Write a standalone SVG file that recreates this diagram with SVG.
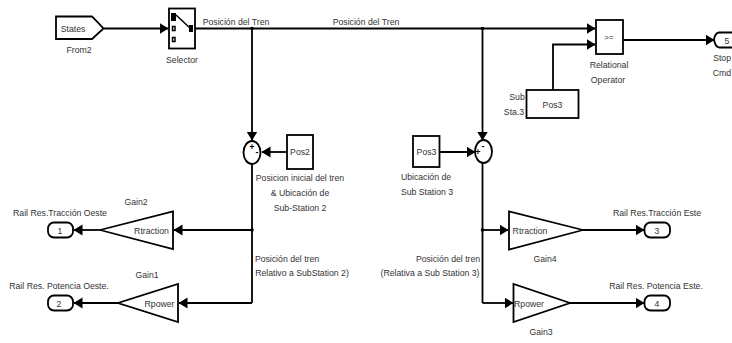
<svg xmlns="http://www.w3.org/2000/svg" width="732" height="343" viewBox="0 0 732 343">
<defs>
<marker id="a" markerUnits="userSpaceOnUse" markerWidth="11" markerHeight="12" refX="8.500" refY="5.500" orient="auto"><path d="M0 0L9 5.500L0 11Z" fill="#000"/></marker>
</defs>
<style>
text{font-family:"Liberation Sans",Arial,sans-serif;font-size:8.700px;fill:#333;text-anchor:middle}
.b{fill:#fff;stroke:#000;stroke-width:1.800}
.c{fill:none;stroke:#000;stroke-width:1.800;marker-end:url(#a)}
.w{fill:none;stroke:#000;stroke-width:1.800}
.s{font-size:9px;font-weight:700;fill:#000}
</style>
<rect width="732" height="343" fill="#fff"/>
<g id="connectors">
<path class="c" d="M104 28.500H168"/>
<path class="c" d="M195 28.500H595"/>
<path class="c" d="M252 28.500V140"/>
<path class="c" d="M482.500 28.500V140"/>
<path class="c" d="M553 90V44.500H595"/>
<path class="c" d="M623 40H714"/>
<path class="c" d="M287 152H262"/>
<path class="c" d="M440 152H475"/>
<path class="w" d="M252 164V303"/>
<path class="c" d="M252 230H174"/>
<path class="c" d="M252 303H179"/>
<path class="c" d="M100 230H74"/>
<path class="c" d="M118 303H74"/>
<path class="w" d="M482.500 163V303"/>
<path class="c" d="M482.500 230H508"/>
<path class="c" d="M482.500 303H513"/>
<path class="c" d="M583 230H644"/>
<path class="c" d="M570 303H644"/>
<circle cx="252" cy="28.500" r="1.800"/>
<circle cx="482.500" cy="28.500" r="1.800"/>
<circle cx="252" cy="230" r="1.800"/>
<circle cx="482.500" cy="230" r="1.800"/>
</g>
<g id="from2"><path class="b" d="M56 16.500H92L103.500 28.500L92 39H56Z"/><text x="73" y="31.500">States</text><text x="79" y="53">From2</text></g>
<g id="selector"><rect class="b" x="169" y="8.500" width="26" height="40"/>
<path d="M171 13h5v8h-5z"/><path d="M172.500 26.500h2.500v4h-2.500zM172.500 37.500h2.500v4h-2.500z" fill="#fff" stroke="#000" stroke-width="1.500"/><path d="M176 15L190 28" stroke="#000" stroke-width="1.500"/><path d="M189 25h4v7h-4z"/>
<text x="182" y="63">Selector</text></g>
<g id="labels-top"><text x="236" y="25">Posición del Tren</text><text x="366" y="25">Posición del Tren</text></g>
<g id="sum2"><ellipse class="b" cx="252" cy="152.500" rx="8.500" ry="11.500"/><text class="s" x="252" y="150">+</text><text class="s" x="257" y="155">-</text></g>
<g id="pos2"><rect class="b" x="287" y="135" width="26" height="34"/><text x="300" y="155">Pos2</text></g>
<g id="sum3"><ellipse class="b" cx="483.500" cy="151.500" rx="8.500" ry="11.500"/><text class="s" x="483" y="149">-</text><text class="s" x="478" y="155">+</text></g>
<g id="pos3b"><rect class="b" x="413" y="136" width="26.500" height="31"/><text x="426.500" y="155">Pos3</text></g>
<g id="pos3a"><rect class="b" x="526.500" y="90" width="52" height="28"/><text x="552.500" y="107.500">Pos3</text><text x="517" y="100">Sub</text><text x="514" y="115">Sta.3</text></g>
<g id="relop"><rect class="b" x="596" y="20" width="27" height="34"/><text x="609" y="40" style="font-size:8px">&gt;=</text><text x="609" y="68">Relational</text><text x="608" y="83">Operator</text></g>
<g id="stop"><path class="b" d="M733 32.500H719Q715 33 714 39.500Q715 46.500 719 47.500H733"/><text x="727" y="44">5</text><text x="731" y="61" style="text-anchor:end">Stop</text><text x="731" y="75.500" style="text-anchor:end">Cmd</text></g>
<g id="labels-mid"><text x="300" y="181">Posicion inicial del tren</text><text x="300" y="196">&amp; Ubicación de</text><text x="300" y="211">Sub-Station 2</text>
<text x="426" y="180">Ubicación de</text><text x="427" y="195">Sub Station 3</text>
<text x="287" y="262">Posición del tren</text><text x="302" y="276">Relativo a SubStation 2)</text>
<text x="448" y="262">Posición del tren</text><text x="430" y="276">(Relativa a Sub Station 3)</text></g>
<g id="gain2"><path class="b" d="M173 211.500V249L100 230Z"/><text x="151.500" y="233.500">Rtraction</text><text x="136" y="205">Gain2</text></g>
<g id="gain1"><path class="b" d="M178 284V322L118 303Z"/><text x="159.500" y="306.500">Rpower</text><text x="147" y="278">Gain1</text></g>
<g id="gain4"><path class="b" d="M509 211.500V249.500L583 230Z"/><text x="530" y="233.500">Rtraction</text><text x="545" y="262">Gain4</text></g>
<g id="gain3"><path class="b" d="M513.500 284V322L570 303Z"/><text x="529" y="306.500">Rpower</text><text x="541" y="335">Gain3</text></g>
<g id="out1"><rect class="b" x="48" y="222.500" width="25" height="15" rx="6"/><text x="60" y="234">1</text><text x="60" y="216">Rail Res.Tracción Oeste</text></g>
<g id="out2"><rect class="b" x="48" y="295.500" width="25" height="15" rx="6"/><text x="59" y="307">2</text><text x="59" y="289">Rail Res. Potencia Oeste.</text></g>
<g id="out3"><rect class="b" x="644.500" y="222.500" width="25.500" height="15" rx="6"/><text x="657" y="234">3</text><text x="657" y="216">Rail Res.Tracción Este</text></g>
<g id="out4"><rect class="b" x="644.500" y="295.500" width="25.500" height="15" rx="6"/><text x="657" y="307">4</text><text x="656" y="289">Rail Res. Potencia Este.</text></g>
</svg>
